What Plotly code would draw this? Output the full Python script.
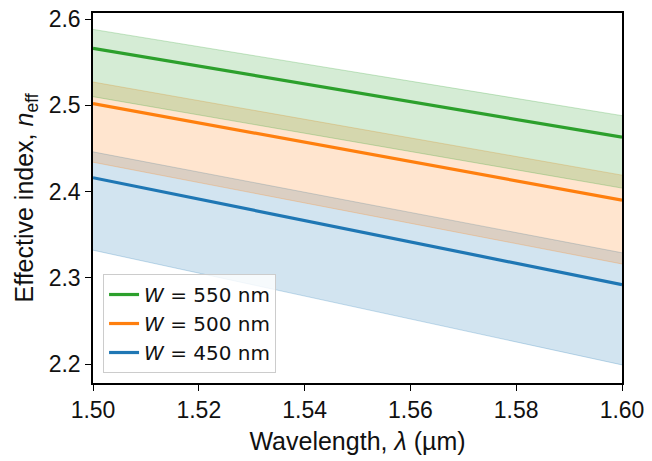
import plotly.graph_objects as go

wavelength = [1.50, 1.60]
widths = ["450", "500", "550"]
legend_order = ["550", "500", "450"]
n_mid = {"450": [2.416, 2.292], "500": [2.502, 2.390], "550": [2.566, 2.463]}
n_up = {"450": [2.446, 2.329], "500": [2.527, 2.419], "550": [2.588, 2.488]}
n_lo = {"450": [2.332, 2.199], "500": [2.434, 2.316], "550": [2.510, 2.404]}
colors = {"450": (31, 119, 180), "500": (255, 127, 14), "550": (44, 160, 44)}
x_ticks = [1.50, 1.52, 1.54, 1.56, 1.58, 1.60]
x_tick_text = ["1.50", "1.52", "1.54", "1.56", "1.58", "1.60"]
y_ticks = [2.2, 2.3, 2.4, 2.5, 2.6]
y_tick_text = ["2.2", "2.3", "2.4", "2.5", "2.6"]

fig = go.Figure()

for w in widths:
    r, g, b = colors[w]
    fig.add_trace(go.Scatter(x=wavelength, y=n_lo[w], mode="lines",
                             line=dict(color=f"rgba({r},{g},{b},0.25)", width=1),
                             showlegend=False, hoverinfo="skip"))
    fig.add_trace(go.Scatter(x=wavelength, y=n_up[w], mode="lines", fill="tonexty",
                             fillcolor=f"rgba({r},{g},{b},0.2)",
                             line=dict(color=f"rgba({r},{g},{b},0.25)", width=1),
                             showlegend=False, hoverinfo="skip"))

for w in legend_order:
    r, g, b = colors[w]
    fig.add_trace(go.Scatter(x=wavelength, y=n_mid[w], mode="lines",
                             line=dict(color=f"rgb({r},{g},{b})", width=3.2),
                             name=f"<i>W</i> = {w} nm"))

axis_common = dict(showline=True, linecolor="black", linewidth=1.5, mirror=True,
                   ticks="outside", ticklen=6, tickwidth=1.2, tickcolor="black",
                   showgrid=False, zeroline=False, automargin=False,
                   ticklabeloverflow="allow",
                   tickfont=dict(family="Arial", size=23, color="#111"))

fig.update_layout(
    width=652, height=461,
    margin=dict(l=93, r=30, t=13, b=78),
    plot_bgcolor="white", paper_bgcolor="white",
    xaxis=dict(range=[1.50, 1.60], tickvals=x_ticks, ticktext=x_tick_text,
               title=dict(text="Wavelength, <i>λ</i> (µm)", standoff=10,
                          font=dict(family="Arial", size=25, color="#111")),
               **axis_common),
    yaxis=dict(range=[2.178, 2.607], tickvals=y_ticks, ticktext=y_tick_text,
               title=dict(text="Effective index, <i>n</i><sub>eff</sub>", standoff=8,
                          font=dict(family="Arial", size=25, color="#111")),
               **axis_common),
    legend=dict(x=0.019, y=0.027, xanchor="left", yanchor="bottom",
                bgcolor="rgba(255,255,255,0.8)", bordercolor="#cccccc", borderwidth=1,
                font=dict(family="DejaVu Sans", size=20, color="#111"),
                tracegroupgap=0, itemwidth=30, traceorder="normal"),
    showlegend=True,
)

fig.write_html("out.html", config={"displayModeBar": False},
               post_script="document.body.style.margin='0';document.body.style.padding='0';")
